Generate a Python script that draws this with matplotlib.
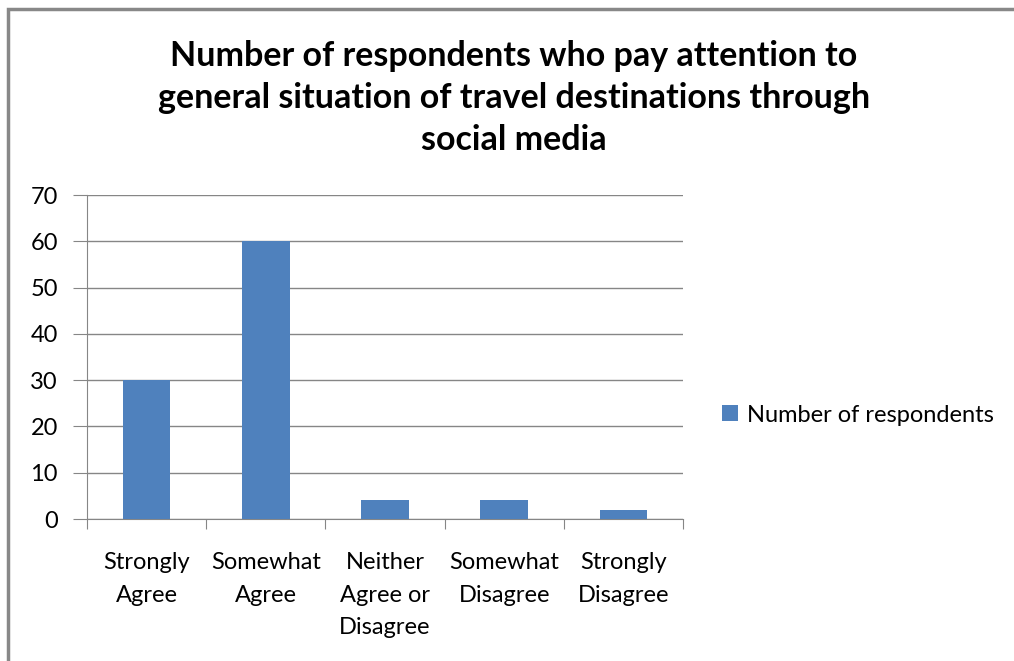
import matplotlib.pyplot as plt
from matplotlib.patches import Rectangle

categories = ["Strongly\nAgree", "Somewhat\nAgree", "Neither\nAgree or\nDisagree",
              "Somewhat\nDisagree", "Strongly\nDisagree"]
values = [30, 60, 4, 4, 2]
series_name = "Number of respondents"
title = ("Number of respondents who pay attention to\n"
         "general situation of travel destinations through\n"
         "social media")

plt.rcParams['font.family'] = ['Lato', 'DejaVu Sans']

fig = plt.figure(figsize=(10.14, 6.61), dpi=100)
ax = fig.add_axes([87 / 1014, 1 - 519 / 661, 596 / 1014, 324 / 661])

x = range(len(values))
ax.bar(x, values, width=0.4, color="#4F81BD", label=series_name, zorder=3)

ax.set_xlim(-0.5, len(values) - 0.5)
ax.set_ylim(0, 70)
ax.set_yticks(range(0, 71, 10))
ax.yaxis.grid(True, color="#868686", linewidth=1, zorder=0)

# category ticks on boundaries, labels in the middle
ax.set_xticks([i - 0.5 for i in range(len(values) + 1)])
ax.set_xticklabels([])
ax.set_xticks(list(x), minor=True)
ax.set_xticklabels(categories, minor=True, fontsize=17, linespacing=1.68, va="top")
ax.tick_params(axis="x", which="minor", length=0, pad=24)
ax.tick_params(axis="x", which="major", length=7, color="#868686", direction="out")
ax.tick_params(axis="y", length=10, color="#868686", labelsize=17, pad=11)

for side in ["top", "right"]:
    ax.spines[side].set_visible(False)
for side in ["left", "bottom"]:
    ax.spines[side].set_color("#868686")

fig.text(0.507, 1 - 98 / 661, title, ha="center", va="center", fontsize=24.5,
         fontweight="bold", linespacing=1.4)

fig.legend(loc="center left", bbox_to_anchor=(701 / 1014, 1 - 415 / 661),
           frameon=False, fontsize=17, handlelength=0.65, handleheight=0.65,
           handletextpad=0.4)

# outer chart border
fig.patches.append(Rectangle((8 / 1014, -0.1), 1.1, 1 - 9 / 661 + 0.1,
                             transform=fig.transFigure, fill=False,
                             edgecolor="#888888", linewidth=2.5))

fig.savefig("out.png", dpi=100)
